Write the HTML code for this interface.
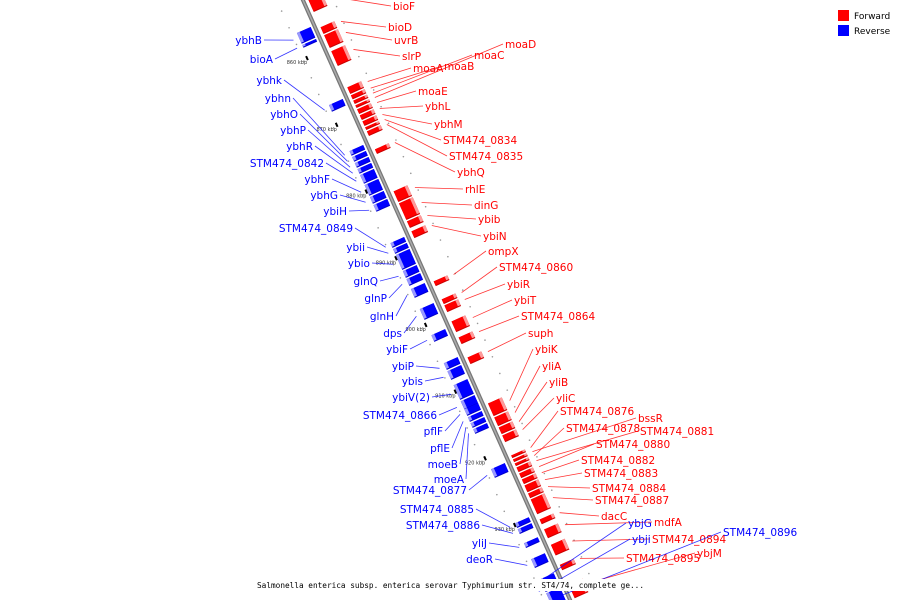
<!DOCTYPE html>
<html><head><meta charset="utf-8"><style>
body{margin:0;background:#fff;}
svg{display:block;font-family:"DejaVu Sans","Liberation Sans",sans-serif;}
</style></head><body>
<svg id="map" width="900" height="600" viewBox="0 0 900 600" xmlns="http://www.w3.org/2000/svg">
<line x1="302" y1="-2" x2="571" y2="602" stroke="#777" stroke-width="4"/>
<line x1="302" y1="-2" x2="571" y2="602" stroke="#aaa" stroke-width="1.5"/>
<g>
<rect x="838" y="10" width="11" height="11" fill="#f00"/>
<text x="854" y="19" font-size="9">Forward</text>
<rect x="838" y="25" width="11" height="11" fill="#00f"/>
<text x="854" y="34" font-size="9">Reverse</text>
</g>
</svg>
<script>
const tickKbp=[860,870,880,890,900,910,920,930];
const fwdNames=["bioF","bioD","uvrB","slrP","moaA","moaB","moaC","moaD","moaE","ybhL","ybhM","STM474_0834","STM474_0835","ybhQ","rhlE","dinG","ybib","ybiN","ompX","STM474_0860","ybiR","ybiT","STM474_0864","suph","ybiK","yliA","yliB","yliC","STM474_0876","bssR","STM474_0878","STM474_0881","STM474_0880","STM474_0882","STM474_0883","STM474_0884","STM474_0887","dacC","mdfA","STM474_0894","STM474_0895","ybjM"];
const fwdStart=[852.8,857.0,858.2,860.6,866.0,867.2,868.0,868.7,869.3,870.2,871.1,872.0,872.6,875.3,881.6,883.4,886.1,887.6,895.1,897.8,898.7,901.1,903.5,906.5,913.4,915.5,917.0,918.2,921.2,921.8,922.4,923.0,923.9,924.8,925.7,926.9,927.8,930.8,932.3,934.6,937.6,940.6];
const fwdEnd=[854.9,858.2,860.3,863.0,867.2,868.0,868.7,869.3,870.2,871.1,872.0,872.6,873.5,876.2,883.4,886.1,887.3,888.8,896.0,898.7,899.9,902.9,904.7,907.7,915.5,917.0,918.2,919.4,921.8,922.4,923.0,923.9,924.8,925.7,926.9,927.8,930.2,931.7,933.8,936.4,938.6,942.8];
const fwdLabelX=[393,388,394,402,413,444,474,505,418,425,434,443,449,457,465,474,478,483,488,499,507,514,521,528,535,542,549,556,560,638,566,640,596,581,584,592,595,601,654,652,626,697];
const fwdLabelY=[10,31,44,60,72,70,59,48,95,110,128,144,160,176,193,209,223,240,255,271,288,304,320,337,353,370,386,402,415,422,432,435,448,464,477,492,504,520,526,543,562,557];
const revNames=["ybhB","bioA","ybhk","ybhn","ybhO","ybhP","ybhR","STM474_0842","ybhF","ybhG","ybiH","STM474_0849","ybii","ybio","glnQ","glnP","glnH","dps","ybiF","ybiP","ybis","ybiV(2)","STM474_0866","pflF","pflE","moeB","moeA","STM474_0877","STM474_0885","STM474_0886","yliJ","deoR","ybjG","ybji","STM474_0896"];
const revStart=[856.4,858.2,867.2,874.1,875.0,875.9,876.8,877.7,879.2,881.0,882.2,887.9,888.8,889.7,892.1,893.3,894.8,897.8,901.7,905.9,907.1,909.2,911.6,912.8,914.0,914.9,915.8,921.8,929.9,930.8,932.9,935.3,938.3,939.5,940.4];
const revEnd=[858.2,858.8,868.4,875.0,875.9,876.8,877.7,879.2,881.0,882.2,883.4,888.8,889.7,892.1,893.3,894.5,896.3,899.6,902.9,907.1,908.6,911.6,913.1,914.0,914.9,915.8,916.7,923.3,930.8,931.7,933.8,936.8,939.5,940.4,942.8];
const revLabelX=[262,273,282,291,298,306,313,324,330,338,347,353,365,370,378,387,394,402,408,414,423,430,437,443,450,458,464,467,474,480,487,493,628,632,723];
const revLabelY=[44,63,84,102,118,134,150,167,183,199,215,232,251,267,285,302,320,337,353,370,385,401,419,435,452,468,483,494,513,529,547,563,527,543,536];
const revRight=[0,0,0,0,0,0,0,0,0,0,0,0,0,0,0,0,0,0,0,0,0,0,0,0,0,0,0,0,0,0,0,0,1,1,1];

const svg=document.getElementById('map');
const NS='http://www.w3.org/2000/svg';
const X0=303,SLOPE=0.445,Y0=48,PXK=6.67;
const L=Math.hypot(SLOPE,1),nx=1/L,ny=-SLOPE/L;
function yOf(k){return Y0+(k-860)*PXK;}
function pt(k,off){const y=yOf(k);const x=X0+SLOPE*y;return [x+nx*off,y+ny*off];}
function mk(tag,attrs){const e=document.createElementNS(NS,tag);for(const a in attrs)e.setAttribute(a,attrs[a]);svg.appendChild(e);return e;}
function poly(k1,k2,o1,o2,fill){const a=pt(k1,o1),b=pt(k2,o1),c=pt(k2,o2),d=pt(k1,o2);
return mk('polygon',{points:[a,b,c,d].map(p=>p.join(',')).join(' '),fill:fill});}

tickKbp.forEach((k,i)=>{
  const a=pt(k,-20),b=pt(k+0.6,-20);
  const t=mk('line',{x1:a[0],y1:a[1],x2:b[0],y2:b[1],stroke:'#000','stroke-width':2});
  
  
  const p=pt(k,-30);
  const tx=mk('text',{x:p[0],y:p[1]+4,'font-size':5,'text-anchor':'middle',fill:'#333'});
  tx.textContent=k+' kbp';
  
  
});
for(let k=853;k<944;k+=2.5){
  [-24,28].forEach(o=>{const p=pt(k,o);const d=mk('circle',{cx:p[0],cy:p[1],r:0.8,fill:'#999'});
  
  });
}
function drawGene(name,s,e,lx,ly,fwd,right,i){
  const g=fwd?[5,20]:[-4,-19];
  const col=fwd?'#f00':'#00f',light=fwd?'#f99':'#99f',dark=fwd?'#c00':'#00c';
  const mid=(s+e)/2;
  const tgt=pt(mid,fwd?26:-25);
  const ln=mk('line',{x1:right||fwd?lx-2:lx+2,y1:ly-4,x2:tgt[0],y2:tgt[1],stroke:col,'stroke-width':0.8,'stroke-opacity':0.8});
  
  
  const sh=poly(s+0.2,e,g[0],g[1],dark);
  
  
  const b=poly(s+0.2,e-0.15,g[0],g[1]*0.8+g[0]*0.2,col);
  
  
  const t=poly(s+0.2,e-0.15,g[1]*0.8+g[0]*0.2,g[1],light);
  
  
  const tx=mk('text',{x:lx,y:ly,'font-size':10.5,fill:col,'text-anchor':(fwd||right)?'start':'end'});
  tx.textContent=name;
  
  
}
fwdNames.forEach((n,i)=>drawGene(n,fwdStart[i],fwdEnd[i],fwdLabelX[i],fwdLabelY[i],true,0,i));
revNames.forEach((n,i)=>drawGene(n,revStart[i],revEnd[i],revLabelX[i],revLabelY[i],false,revRight[i],i));

const bg=mk('rect',{x:255,y:579,width:392,height:12,fill:'#fff'});


const cap=mk('text',{x:257,y:588,'font-size':8,textLength:387,lengthAdjust:'spacingAndGlyphs','font-family':'DejaVu Sans Mono, Liberation Mono, monospace'});
cap.textContent='Salmonella enterica subsp. enterica serovar Typhimurium str. ST4/74, complete ge...';


</script>
</body></html>
